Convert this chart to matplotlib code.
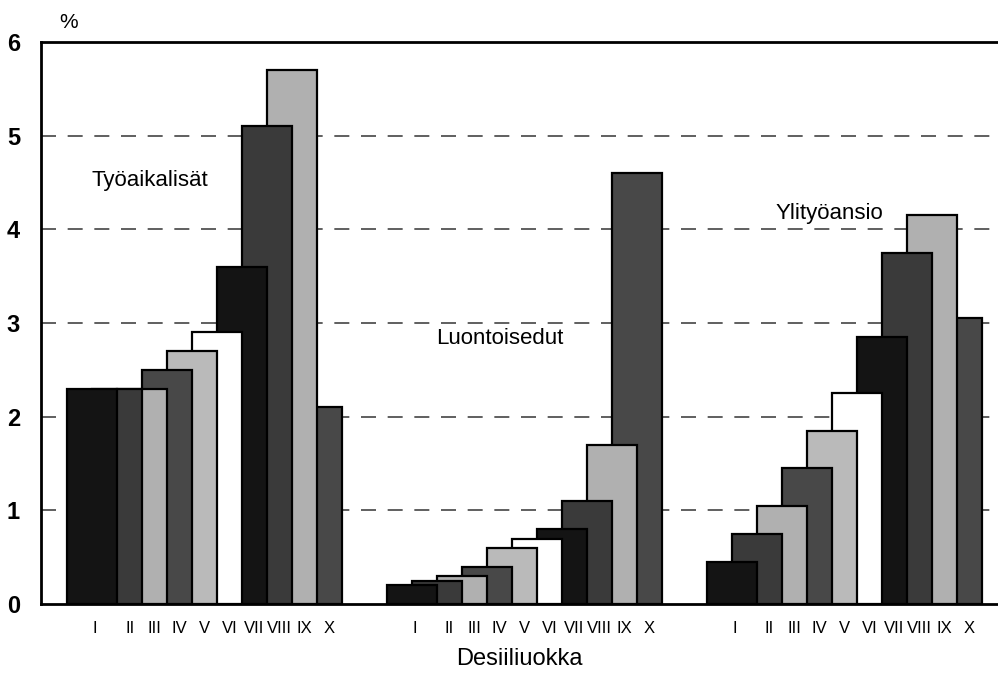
import numpy as np
import matplotlib
matplotlib.use("Agg")
from matplotlib import pyplot as plt

plt.rcParams['font.family'] = ['Liberation Sans Narrow', 'Liberation Sans', 'DejaVu Sans']

# Decile classes and the three earnings components (% of total earnings)
deciles = ["I", "II", "III", "IV", "V", "VI", "VII", "VIII", "IX", "X"]
groups = ["Työaikalisät", "Luontoisedut", "Ylityöansio"]
tyoaikalisat = [2.3, 2.3, 2.3, 2.5, 2.7, 2.9, 3.6, 5.1, 5.7, 2.1]
luontoisedut = [0.2, 0.25, 0.3, 0.4, 0.6, 0.7, 0.8, 1.1, 1.7, 4.6]
ylityoansio = [0.45, 0.75, 1.05, 1.45, 1.85, 2.25, 2.85, 3.75, 4.15, 3.05]
series = [tyoaikalisat, luontoisedut, ylityoansio]

colors = ['#141414', '#3a3a3a', '#b0b0b0', '#484848', '#bababa',
          'white', '#141414', '#3a3a3a', '#b0b0b0', '#484848']

group_start = [1.05, 13.85, 26.65]
bar_w = 2.0  # every bar is two steps wide, so neighbours overlap by half
label_pos = [(3.3, 4.52), (4.5, 2.84), (4.9, 4.17)]

fig = plt.figure(figsize=(9.98, 6.75), dpi=100)
ax = fig.add_axes([0.041, 0.105, 0.959, 0.8326])

tick_x = []
for g, vals in enumerate(series):
    x0 = group_start[g]
    for i, v in enumerate(vals):
        # earlier deciles sit in front of later ones
        ax.bar(x0 + i, v, width=bar_w, align='edge', color=colors[i],
               edgecolor='black', linewidth=1.6, zorder=20 - i)
        tick_x.append(x0 + 1.1 if i == 0 else x0 + i + 1.5)
    ax.text(x0 + label_pos[g][0], label_pos[g][1], groups[g],
            fontsize=16, ha='center', va='center', zorder=30)

ax.set_xlim(0, 38.3)
ax.set_ylim(0, 6)
ax.set_yticks(range(7))
ax.set_yticklabels([str(v) for v in range(7)], fontsize=17, fontweight='bold')
ax.set_xticks(tick_x)
ax.set_xticklabels(deciles * 3, fontsize=12)
ax.tick_params(axis='both', length=0)
ax.tick_params(axis='y', pad=15)
ax.tick_params(axis='x', pad=12)

for y in range(1, 6):
    ax.axhline(y, color='#444444', linewidth=1.2, dashes=(9, 7), zorder=1)

for side in ['left', 'top', 'bottom']:
    ax.spines[side].set_linewidth(2)
ax.spines['right'].set_visible(False)

ax.text(0.0285, 1.018, "%", transform=ax.transAxes, fontsize=15, ha='center', va='bottom')
ax.set_xlabel("Desiiliuokka", fontsize=17, labelpad=9)

fig.savefig("out.png", dpi=100)
